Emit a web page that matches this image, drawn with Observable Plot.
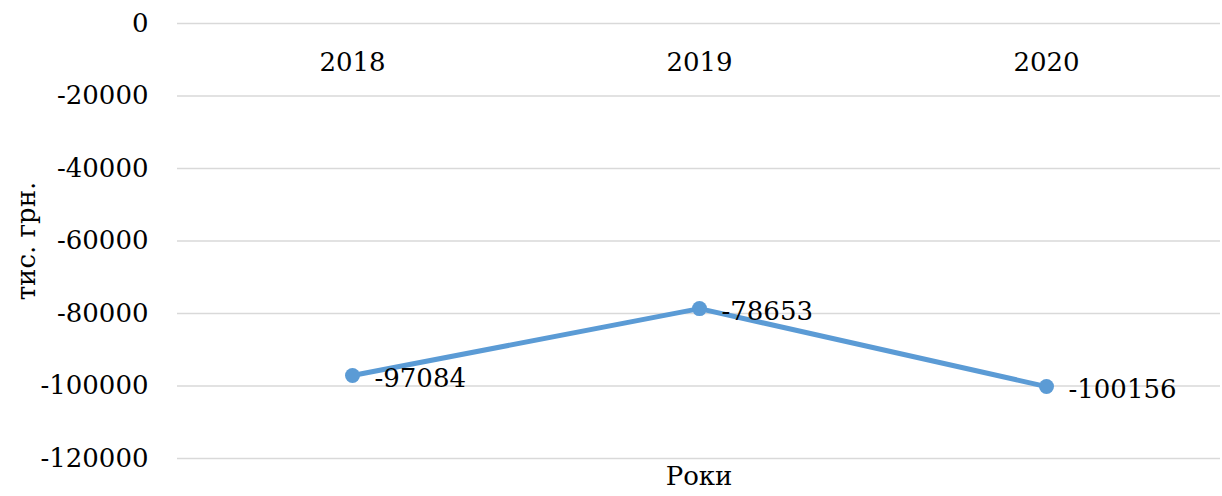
<!DOCTYPE html>
<html>
<head>
<meta charset="utf-8">
<script src="https://cdn.jsdelivr.net/npm/d3@7"></script>
<script src="https://cdn.jsdelivr.net/npm/@observablehq/plot@0.6"></script>
<style>
  html, body { margin: 0; padding: 0; background: #fff; }
</style>
</head>
<body>
<div id="chart"></div>
<script>
const years = ["2018", "2019", "2020"];
const values = [-97084, -78653, -100156];
const yTicks = [0, -20000, -40000, -60000, -80000, -100000, -120000];
const yTitle = "тис. грн.";
const xTitle = "Роки";

const data = years.map((year, i) => ({year, value: values[i]}));
const FONT = 26;
const FAM = "DejaVu Serif";

const chart = Plot.plot({
  width: 1222,
  height: 496,
  marginLeft: 177,
  marginRight: 2,
  marginTop: 23,
  marginBottom: 38,
  style: {fontSize: FONT + "px", fontFamily: FAM, color: "#000", background: "#fff"},
  x: {type: "point", domain: years, padding: 0.5, axis: null},
  y: {domain: [-120000, 0], ticks: yTicks},
  marks: [
    Plot.gridY(yTicks, {stroke: "#d9d9d9", strokeOpacity: 1, strokeWidth: 1.5}),
    Plot.axisY(yTicks, {tickSize: 0, tickPadding: 29, fontSize: FONT, fontFamily: FAM, label: null, tickFormat: d => String(d)}),
    Plot.text(years, {x: d => d, frameAnchor: "top", lineAnchor: "middle", dy: 39, fontSize: FONT, fontFamily: FAM, fill: "#000"}),
    Plot.line(data, {x: "year", y: "value", stroke: "#5B9BD5", strokeWidth: 5}),
    Plot.dot(data, {x: "year", y: "value", r: 7.5, fill: "#5B9BD5", stroke: "none"}),
    Plot.text(data, {x: "year", y: "value", text: d => String(d.value), textAnchor: "start", dx: 22, dy: 3, fontSize: FONT, fontFamily: FAM, fill: "#000"}),
    Plot.text([yTitle], {frameAnchor: "left", textAnchor: "middle", lineAnchor: "middle", dx: -151, rotate: -90, fontSize: FONT, fontFamily: FAM, fill: "#000"}),
    Plot.text([xTitle], {frameAnchor: "bottom", lineAnchor: "middle", dy: 18, fontSize: FONT, fontFamily: FAM, fill: "#000"})
  ]
});
document.getElementById("chart").append(chart);
</script>
</body>
</html>
